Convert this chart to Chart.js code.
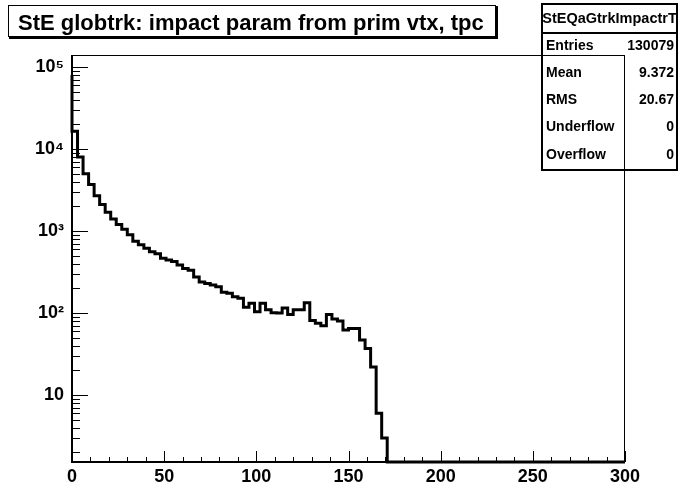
<!DOCTYPE html>
<html>
<head>
<meta charset="utf-8">
<script src="https://cdn.jsdelivr.net/npm/chart.js@4.4.1/dist/chart.umd.min.js"></script>
<style>
    html, body { margin: 0; padding: 0; background: #fff; }
    canvas { display: block; }
</style>
</head>
<body>
<canvas id="hist-chart" width="683" height="490"></canvas>
<script>
// Histogram 0..300 in bins of 3, only the first 58 bins are filled
const binWidth = 3;
const counts = [
    80000, 16500, 8000, 5000, 3700, 2700, 2100, 1700, 1400, 1200,
    1050, 900, 750, 680, 615, 560, 530, 465, 445, 425,
    385, 350, 333, 275, 240, 230, 220, 210, 180, 174,
    158, 152, 118, 132, 104, 132, 110, 101, 100, 115,
    96, 110, 110, 134, 81, 75, 70, 96, 85, 80,
    62, 65, 65, 47, 37, 22, 6, 3
];

const xTickLabels = ['0', '50', '100', '150', '200', '250', '300'];
const yTickValues = [10, 100, 1000, 10000, 100000];
const yTickLabels = ['10', '10²', '10³', '10⁴', '10⁵'];

const chartTitle = 'StE globtrk: impact param from prim vtx, tpc';
const statsTitle = 'StEQaGtrkImpactrT';
const statsNames = ['Entries', 'Mean', 'RMS', 'Underflow', 'Overflow'];
const statsValues = ['130079', '9.372', '20.67', '0', '0'];

const yMin = 1.53;
const yMax = 140000;
const font = "'Liberation Sans', Arial, Helvetica, sans-serif";

// empty bins sit on the bottom of the log axis, like ROOT draws them
const points = counts.map((c, i) => ({ x: i * binWidth, y: c }));
points.push({ x: counts.length * binWidth, y: yMin });
points.push({ x: 300, y: yMin });

const rootFrame = {
    id: 'rootFrame',
    afterDatasetsDraw(chart) {
        const { ctx, chartArea: a, scales: { x, y } } = chart;
        ctx.save();
        ctx.strokeStyle = '#000';

        // x ticks point up into the frame
        ctx.lineWidth = 1;
        for (let v = 0; v <= 300; v += 10) {
            const px = Math.round(x.getPixelForValue(v)) + 0.5;
            const len = v % 50 === 0 ? 11 : 5;
            ctx.beginPath();
            ctx.moveTo(px, a.bottom);
            ctx.lineTo(px, a.bottom - len);
            ctx.stroke();
        }

        // y ticks point right into the frame
        y.ticks.forEach(t => {
            const py = Math.round(y.getPixelForValue(t.value)) + 0.5;
            const len = yTickValues.includes(t.value) ? 16 : 8;
            ctx.beginPath();
            ctx.moveTo(a.left, py);
            ctx.lineTo(a.left + len, py);
            ctx.stroke();
        });

        // frame
        ctx.strokeRect(a.left + 0.5, a.top + 0.5, a.width - 1, a.height - 1);
        ctx.lineWidth = 2;
        ctx.beginPath();
        ctx.moveTo(a.left, a.top);
        ctx.lineTo(a.left, a.bottom);
        ctx.lineTo(a.right, a.bottom);
        ctx.stroke();
        ctx.restore();
    },
    afterDraw(chart) {
        const ctx = chart.ctx;
        ctx.save();
        ctx.fillStyle = '#000';
        ctx.strokeStyle = '#000';

        // title pave with a small shadow
        ctx.lineWidth = 1;
        ctx.strokeRect(8.5, 5.5, 487, 31);
        ctx.fillRect(9, 37, 488, 2);
        ctx.fillRect(496, 6, 2, 33);
        ctx.font = 'bold 22px ' + font;
        ctx.textBaseline = 'alphabetic';
        ctx.textAlign = 'left';
        ctx.fillText(chartTitle, 18, 30);

        // stats box
        ctx.lineWidth = 2;
        ctx.strokeRect(542, 4, 135, 166);
        ctx.beginPath();
        ctx.moveTo(542, 33);
        ctx.lineTo(677, 33);
        ctx.stroke();
        ctx.textBaseline = 'middle';
        ctx.textAlign = 'center';
        ctx.font = 'bold 14.5px ' + font;
        ctx.fillText(statsTitle, 609.5, 18.5);
        ctx.font = 'bold 14px ' + font;
        const rowY = [46.5, 73.5, 100.5, 127.5, 155];
        statsNames.forEach((name, i) => {
            ctx.textAlign = 'left';
            ctx.fillText(name, 546, rowY[i]);
            ctx.textAlign = 'right';
            ctx.fillText(statsValues[i], 674, rowY[i]);
        });
        ctx.restore();
    }
};

new Chart(document.getElementById('hist-chart'), {
    type: 'line',
    data: {
        datasets: [
            {
                data: points,
                borderColor: '#000',
                borderWidth: 3,
                pointRadius: 0,
                stepped: 'after',
                fill: false,
                clip: 4
            }
        ]
    },
    options: {
        responsive: false,
        animation: false,
        devicePixelRatio: 1,
        events: [],
        layout: { padding: { top: 55, right: 58, left: 0, bottom: 0 } },
        plugins: {
            legend: { display: false },
            tooltip: { enabled: false }
        },
        scales: {
            x: {
                type: 'linear',
                min: 0,
                max: 300,
                grid: { display: false, drawTicks: false },
                border: { display: false },
                ticks: {
                    stepSize: 50,
                    padding: 4,
                    color: '#000',
                    font: { family: font, size: 18, weight: 'bold' },
                    maxRotation: 0,
                    callback: (v, i) => xTickLabels[i]
                },
                afterFit: s => { s.height = 28; }
            },
            y: {
                type: 'logarithmic',
                min: yMin,
                max: yMax,
                grid: { display: false, drawTicks: false },
                border: { display: false },
                afterBuildTicks: s => {
                    const ticks = [];
                    for (let d = 1; d <= 100000; d *= 10) {
                        for (let m = 1; m <= 9; m++) {
                            const v = m * d;
                            if (v >= yMin && v <= yMax) ticks.push({ value: v });
                        }
                    }
                    s.ticks = ticks;
                },
                ticks: {
                    autoSkip: false,
                    padding: 8,
                    color: '#000',
                    font: { family: font, size: 18, weight: 'bold' },
                    callback: v => {
                        const i = yTickValues.indexOf(v);
                        return i >= 0 ? yTickLabels[i] : '';
                    }
                },
                afterFit: s => { s.width = 72; }
            }
        }
    },
    plugins: [rootFrame]
});
</script>
</body>
</html>
